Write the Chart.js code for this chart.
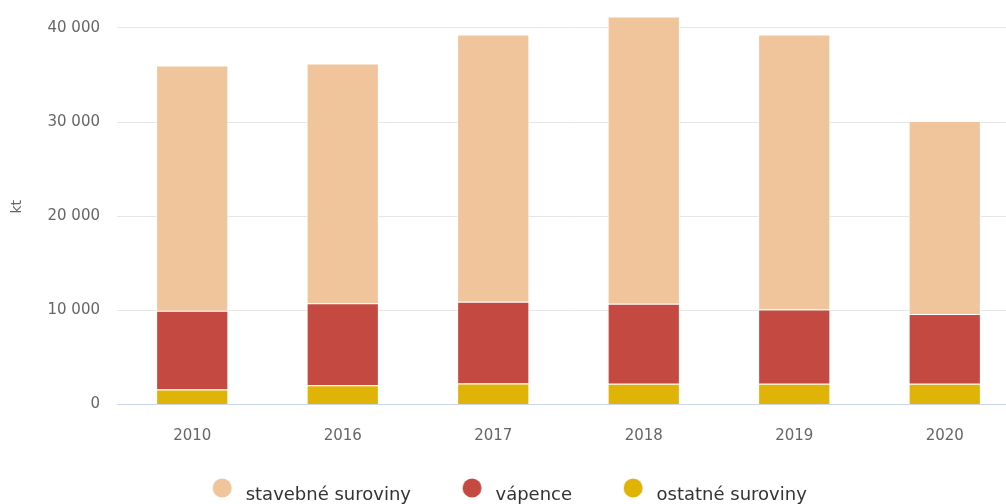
<!DOCTYPE html>
<html lang="sk">
<head>
    <meta charset="UTF-8">
    <title>Ťažba nerastných surovín</title>
    <script src="https://cdn.jsdelivr.net/npm/chart.js"></script>
    <style>
        html, body { margin: 0; padding: 0; background: #fff; overflow: hidden; }
        /* the chart is a bit bigger than the window, the right and bottom edges get cut off */
        .chart-box { position: relative; width: 1020px; height: 518px; }
    </style>
</head>
<body>
    <div class="chart-box">
        <canvas id="miningChart"></canvas>
    </div>

    <script>
        // years on the x axis
        const years = ["2010", "2016", "2017", "2018", "2019", "2020"];

        // values in kt
        const stavebne = [26050, 25460, 28400, 30500, 29200, 20500];
        const vapence = [8350, 8690, 8670, 8500, 7900, 7400];
        const ostatne = [1600, 2050, 2230, 2200, 2200, 2200];

        // y axis ticks
        const yTicks = [0, 10000, 20000, 30000, 40000];

        // round legend marker: sits a little above the text line and to the right
        // of its (wide) legend box, so the gap to the previous item stays wide
        function dot(color) {
            const c = document.createElement("canvas");
            c.width = 46;
            c.height = 34;
            const g = c.getContext("2d");
            g.fillStyle = color;
            g.beginPath();
            g.arc(35.25, 10, 9.5, 0, Math.PI * 2);
            g.fill();
            return c;
        }

        // "40 000" style numbers
        function spaced(v) {
            return String(v).replace(/\B(?=(\d{3})+(?!\d))/g, " ");
        }

        // nudge the legend a bit left and up after the layout is done
        const moveLegend = {
            id: "moveLegend",
            afterLayout(chart) {
                const lg = chart.legend;
                lg.left -= 15; lg.right -= 15;
                lg.top -= 4; lg.bottom -= 4;
            }
        };

        const colors = { stavebne: "#f0c59c", vapence: "#c44a41", ostatne: "#e0b406" };

        new Chart(document.getElementById("miningChart"), {
            type: "bar",
            data: {
                labels: years,
                datasets: [
                    { label: "ostatné suroviny", data: ostatne, backgroundColor: colors.ostatne, pointStyle: dot(colors.ostatne) },
                    { label: "vápence", data: vapence, backgroundColor: colors.vapence, pointStyle: dot(colors.vapence) },
                    { label: "stavebné suroviny", data: stavebne, backgroundColor: colors.stavebne, pointStyle: dot(colors.stavebne) }
                ]
            },
            options: {
                responsive: true,
                maintainAspectRatio: false,
                animation: false,
                layout: { padding: { top: 9, left: 0, right: 0, bottom: 0 } },
                datasets: {
                    bar: {
                        borderColor: "#ffffff",
                        borderWidth: 1,
                        barPercentage: 0.48,
                        categoryPercentage: 1
                    }
                },
                scales: {
                    x: {
                        stacked: true,
                        grid: { display: false, drawTicks: false },
                        border: { color: "#ccd6eb", width: 1 },
                        ticks: {
                            color: "#666666",
                            padding: 25,
                            font: { family: "DejaVu Sans", size: 15, lineHeight: 0.9 }
                        }
                    },
                    y: {
                        stacked: true,
                        min: 0,
                        max: 42000,
                        afterFit: function (scale) {
                            scale.width = 117;
                            scale.paddingTop = 0;
                        },
                        afterBuildTicks: function (scale) {
                            scale.ticks = yTicks.map(v => ({ value: v }));
                        },
                        border: { display: false },
                        grid: {
                            drawTicks: false,
                            color: ctx => ctx.tick && ctx.tick.value === 0 ? "#ccd6eb" : "#e6e6e6"
                        },
                        ticks: {
                            color: "#666666",
                            padding: 17,
                            font: { family: "DejaVu Sans", size: 15 },
                            callback: v => spaced(v)
                        },
                        title: {
                            display: true,
                            text: "kt",
                            color: "#666666",
                            padding: { top: 9, bottom: 0 },
                            font: { family: "DejaVu Sans", size: 14 }
                        }
                    }
                },
                plugins: {
                    legend: {
                        position: "bottom",
                        reverse: true,
                        labels: {
                            usePointStyle: true,
                            pointStyleWidth: 53.5,
                            padding: 22,
                            color: "#333333",
                            font: { family: "DejaVu Sans", size: 18 }
                        }
                    },
                    tooltip: { enabled: false }
                }
            },
            plugins: [moveLegend]
        });
    </script>
</body>
</html>
